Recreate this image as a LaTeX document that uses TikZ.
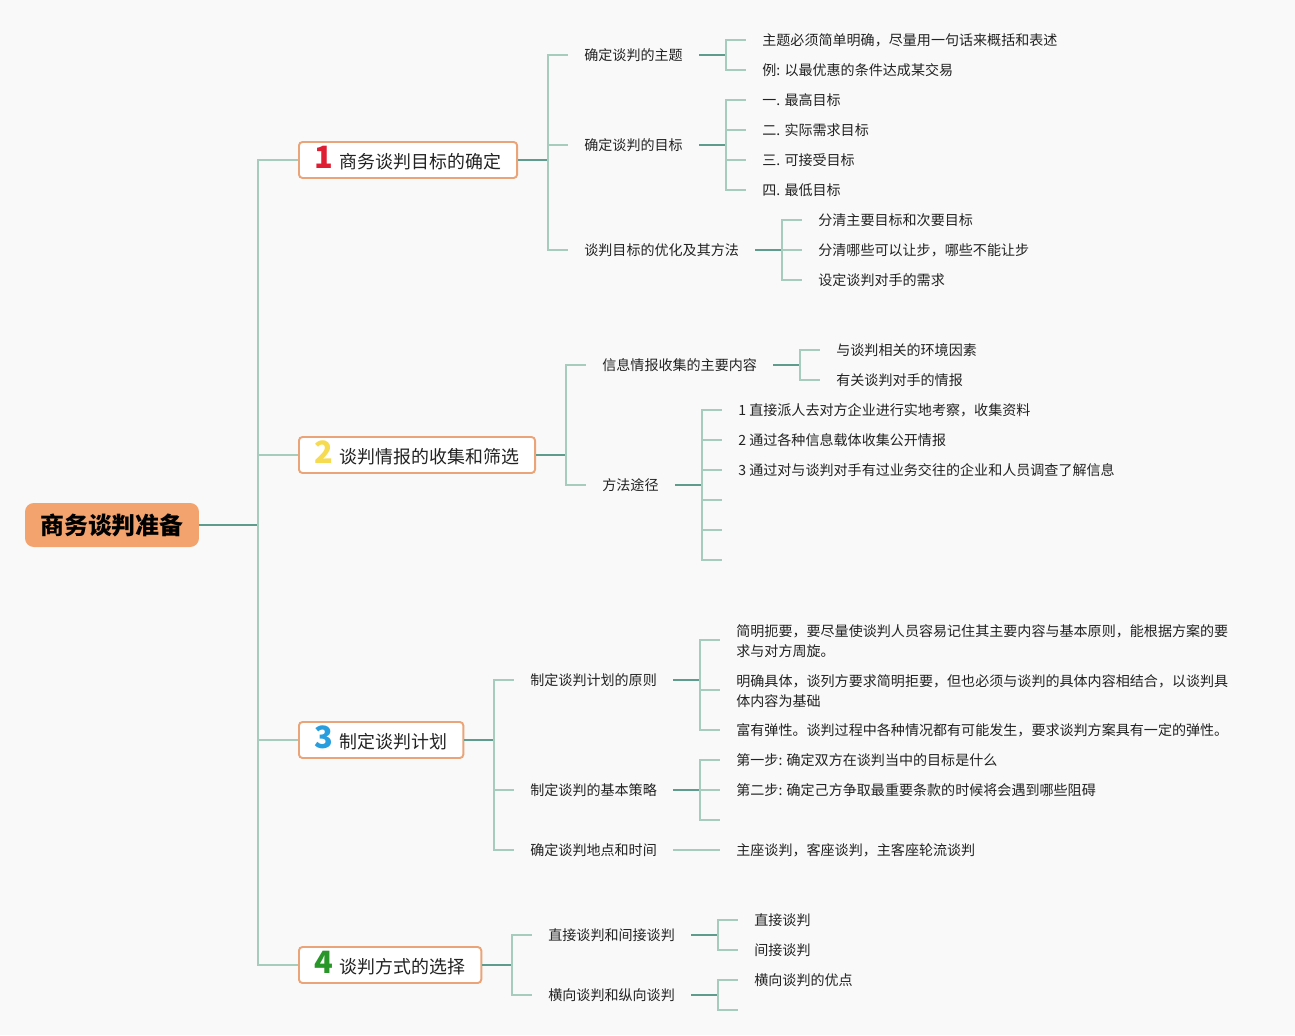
\documentclass[tikz,border=0pt]{standalone}
\usepackage{fontspec}
\setmainfont{Noto Sans CJK SC}
\usepackage{xcolor}
\usetikzlibrary{positioning}
\definecolor{bggray}{RGB}{249,249,249}
\definecolor{rootorange}{RGB}{242,163,110}
\definecolor{boxline}{RGB}{234,164,120}
\definecolor{darkteal}{RGB}{96,156,140}
\definecolor{lightteal}{RGB}{166,204,190}
\definecolor{numred}{RGB}{222,30,50}
\definecolor{numyellow}{RGB}{246,218,80}
\definecolor{numblue}{RGB}{40,158,222}
\definecolor{numgreen}{RGB}{40,150,40}
\definecolor{txt}{RGB}{34,34,34}
\newcommand\topicnum[2]{{\fontsize{17.5}{18}\selectfont\bfseries\color{#1}#2}\hspace{3.5pt}}

\begin{document}
\begin{tikzpicture}[x=0.02cm, y=-0.02cm,
  rootbox/.style={fill=rootorange, rounded corners=5pt, minimum width=3.48cm,
    minimum height=0.88cm, inner sep=0pt, font=\fontsize{13.6}{16}\selectfont\bfseries},
  topicbox/.style={draw=boxline, line width=1.1pt, fill=white, rounded corners=2pt,
    anchor=west, minimum height=0.72cm, inner xsep=0.32cm, inner ysep=0pt,
    text height=11.5pt, text depth=2.2pt, text=txt,
    font=\fontsize{10.2}{12}\selectfont},
  leaf/.style={anchor=west, inner xsep=0.32cm, inner ysep=1pt, text=txt, align=left,
    font=\fontsize{8}{11.3}\selectfont},
  dk/.style={draw=darkteal, line width=1.1pt},
  lt/.style={draw=lightteal, line width=1.1pt}]

  \fill[bggray] (0,0) rectangle (1295,1035);

  % root
  \node[rootbox] (root) at (112,525) {商务谈判准备};
  \coordinate (j0) at (258,525);
  \draw[dk] (root.east) -- (j0);

  % main topics
  \node[topicbox] (b1) at (298,160) {\topicnum{numred}{1}商务谈判目标的确定};
  \node[topicbox] (b2) at (298,455) {\topicnum{numyellow}{2}谈判情报的收集和筛选};
  \node[topicbox] (b3) at (298,740) {\topicnum{numblue}{3}制定谈判计划};
  \node[topicbox] (b4) at (298,965) {\topicnum{numgreen}{4}谈判方式的选择};
  \foreach \b in {b1,b2,b3,b4}
    \draw[lt] (j0) |- (\b.west);

  % topic 1
  \coordinate (j1) at (548,160);
  \draw[dk] (b1.east) -- (j1);
  \node[leaf] (t11) at (568,55) {确定谈判的主题};
  \node[leaf] (t12) at (568,145) {确定谈判的目标};
  \node[leaf] (t13) at (568,250) {谈判目标的优化及其方法};
  \foreach \t in {t11,t12,t13}
    \draw[lt] (j1) |- (\t.west);

  \coordinate (j11) at (726,55);
  \draw[dk] (t11.east) -- (j11);
  \node[leaf] (t111) at (746,40) {主题必须简单明确，尽量用一句话来概括和表述};
  \node[leaf] (t112) at (746,70) {例: 以最优惠的条件达成某交易};
  \foreach \t in {t111,t112}
    \draw[lt] (j11) |- (\t.west);

  \coordinate (j12) at (726,145);
  \draw[dk] (t12.east) -- (j12);
  \node[leaf] (t121) at (746,100) {一. 最高目标};
  \node[leaf] (t122) at (746,130) {二. 实际需求目标};
  \node[leaf] (t123) at (746,160) {三. 可接受目标};
  \node[leaf] (t124) at (746,190) {四. 最低目标};
  \foreach \t in {t121,t122,t123,t124}
    \draw[lt] (j12) |- (\t.west);

  \coordinate (j13) at (782,250);
  \draw[dk] (t13.east) -- (j13);
  \node[leaf] (t131) at (802,220) {分清主要目标和次要目标};
  \node[leaf] (t132) at (802,250) {分清哪些可以让步，哪些不能让步};
  \node[leaf] (t133) at (802,280) {设定谈判对手的需求};
  \foreach \t in {t131,t132,t133}
    \draw[lt] (j13) |- (\t.west);

  % topic 2
  \coordinate (j2) at (566,455);
  \draw[dk] (b2.east) -- (j2);
  \node[leaf] (t21) at (586,365) {信息情报收集的主要内容};
  \node[leaf] (t22) at (586,485) {方法途径};
  \foreach \t in {t21,t22}
    \draw[lt] (j2) |- (\t.west);

  \coordinate (j21) at (800,365);
  \draw[dk] (t21.east) -- (j21);
  \node[leaf] (t211) at (820,350) {与谈判相关的环境因素};
  \node[leaf] (t212) at (820,380) {有关谈判对手的情报};
  \foreach \t in {t211,t212}
    \draw[lt] (j21) |- (\t.west);

  \coordinate (j22) at (702,485);
  \draw[dk] (t22.east) -- (j22);
  \node[leaf] (t221) at (722,410) {1 直接派人去对方企业进行实地考察，收集资料};
  \node[leaf] (t222) at (722,440) {2 通过各种信息载体收集公开情报};
  \node[leaf] (t223) at (722,470) {3 通过对与谈判对手有过业务交往的企业和人员调查了解信息};
  \coordinate (e224) at (722,500);
  \coordinate (e225) at (722,530);
  \coordinate (e226) at (722,560);
  \foreach \t in {t221,t222,t223}
    \draw[lt] (j22) |- (\t.west);
  \foreach \t in {e224,e225,e226}
    \draw[lt] (j22) |- (\t);

  % topic 3
  \coordinate (j3) at (494,740);
  \draw[dk] (b3.east) -- (j3);
  \node[leaf] (t31) at (514,680) {制定谈判计划的原则};
  \node[leaf] (t32) at (514,790) {制定谈判的基本策略};
  \node[leaf] (t33) at (514,850) {确定谈判地点和时间};
  \foreach \t in {t31,t32,t33}
    \draw[lt] (j3) |- (\t.west);

  \coordinate (j31) at (700,680);
  \draw[dk] (t31.east) -- (j31);
  \node[leaf] (t311) at (720,641) {简明扼要，要尽量使谈判人员容易记住其主要内容与基本原则，能根据方案的要\\求与对方周旋。};
  \node[leaf] (t312) at (720,691) {明确具体，谈列方要求简明拒要，但也必须与谈判的具体内容相结合，以谈判具\\体内容为基础};
  \node[leaf] (t313) at (720,730) {富有弹性。谈判过程中各种情况都有可能发生，要求谈判方案具有一定的弹性。};
  \draw[lt] (j31) |- (720,640);
  \draw[lt] (j31) |- (720,690);
  \draw[lt] (j31) |- (t313.west);

  \coordinate (j32) at (700,790);
  \draw[dk] (t32.east) -- (j32);
  \node[leaf] (t321) at (720,760) {第一步: 确定双方在谈判当中的目标是什么};
  \node[leaf] (t322) at (720,790) {第二步: 确定己方争取最重要条款的时候将会遇到哪些阻碍};
  \coordinate (e323) at (720,820);
  \foreach \t in {t321,t322}
    \draw[lt] (j32) |- (\t.west);
  \draw[lt] (j32) |- (e323);

  \node[leaf] (t331) at (720,850) {主座谈判，客座谈判，主客座轮流谈判};
  \draw[lt] (t33.east) -- (t331.west);

  % topic 4
  \coordinate (j4) at (512,965);
  \draw[dk] (b4.east) -- (j4);
  \node[leaf] (t41) at (532,935) {直接谈判和间接谈判};
  \node[leaf] (t42) at (532,995) {横向谈判和纵向谈判};
  \foreach \t in {t41,t42}
    \draw[lt] (j4) |- (\t.west);

  \coordinate (j41) at (718,935);
  \draw[dk] (t41.east) -- (j41);
  \node[leaf] (t411) at (738,920) {直接谈判};
  \node[leaf] (t412) at (738,950) {间接谈判};
  \foreach \t in {t411,t412}
    \draw[lt] (j41) |- (\t.west);

  \coordinate (j42) at (718,995);
  \draw[dk] (t42.east) -- (j42);
  \node[leaf] (t421) at (738,980) {横向谈判的优点};
  \coordinate (e422) at (738,1010);
  \draw[lt] (j42) |- (t421.west);
  \draw[lt] (j42) |- (e422);
\end{tikzpicture}
\end{document}
